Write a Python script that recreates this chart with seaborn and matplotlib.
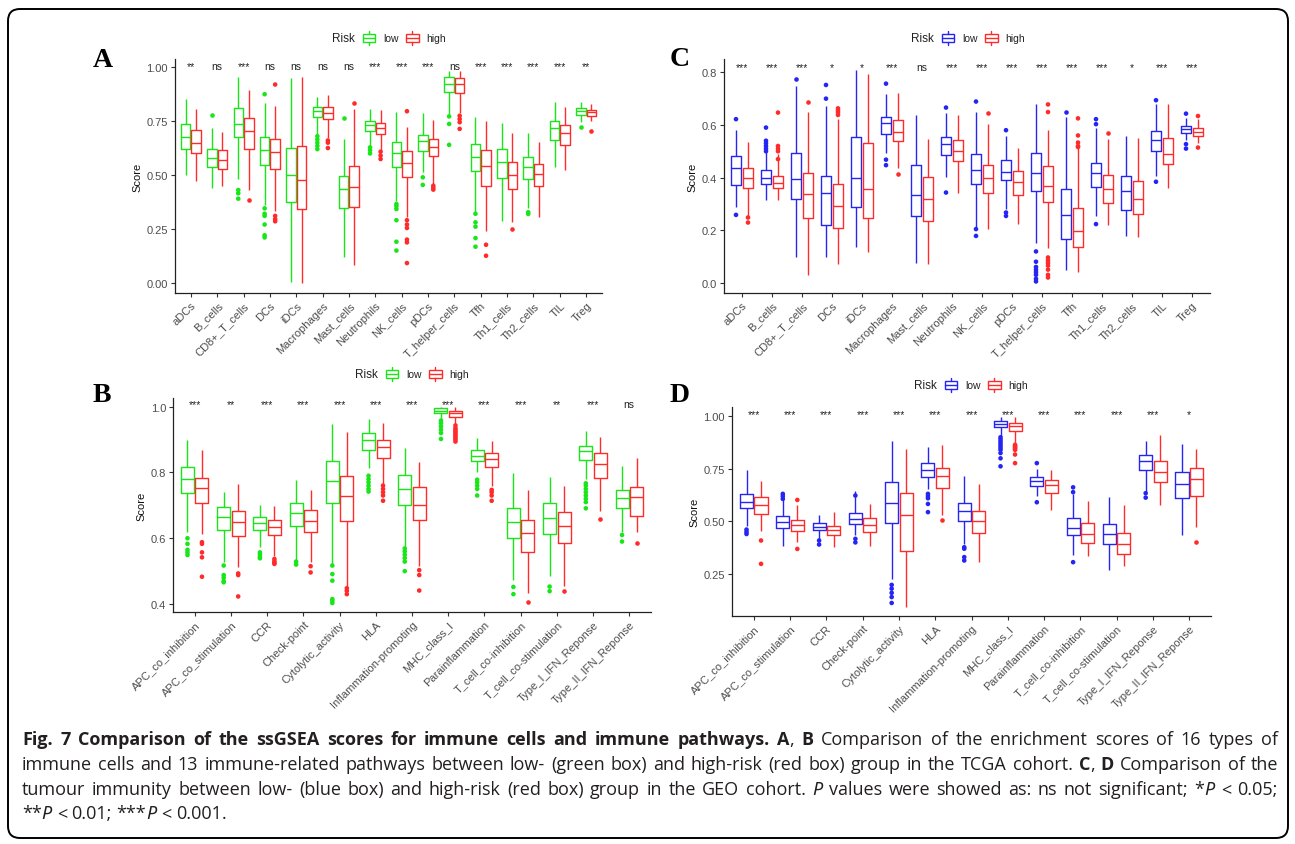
import numpy as np
import pandas as pd
import matplotlib
matplotlib.use('Agg')
import matplotlib.pyplot as plt
import seaborn as sns
from matplotlib.patches import FancyBboxPatch, Rectangle
from matplotlib.lines import Line2D
from matplotlib.transforms import IdentityTransform
from matplotlib.offsetbox import AnchoredOffsetbox, HPacker, TextArea, DrawingArea

# ---------------- categories ----------------
cells = ['aDCs', 'B_cells', 'CD8+_T_cells', 'DCs', 'iDCs', 'Macrophages', 'Mast_cells',
         'Neutrophils', 'NK_cells', 'pDCs', 'T_helper_cells', 'Tfh', 'Th1_cells',
         'Th2_cells', 'TIL', 'Treg']
pathways = ['APC_co_inhibition', 'APC_co_stimulation', 'CCR', 'Check-point',
            'Cytolytic_activity', 'HLA', 'Inflammation-promoting', 'MHC_class_I',
            'Parainflammation', 'T_cell_co-inhibition', 'T_cell_co-stimulation',
            'Type_I_IFN_Reponse', 'Type_II_IFN_Reponse']
risk = ['low', 'high']

# ---------------- panel A (TCGA, immune cells) ----------------
a_low_min = [0.50, 0.44, 0.48, 0.36, 0.002, 0.69, 0.12, 0.636, 0.38, 0.512, 0.783, 0.327, 0.288, 0.345, 0.539, 0.745]
a_low_q1 = [0.62, 0.535, 0.675, 0.545, 0.375, 0.77, 0.345, 0.706, 0.539, 0.613, 0.884, 0.517, 0.486, 0.481, 0.664, 0.78]
a_low_med = [0.675, 0.578, 0.735, 0.615, 0.50, 0.795, 0.435, 0.734, 0.60, 0.659, 0.923, 0.582, 0.56, 0.539, 0.717, 0.796]
a_low_q3 = [0.735, 0.62, 0.81, 0.675, 0.625, 0.815, 0.495, 0.752, 0.655, 0.687, 0.957, 0.644, 0.621, 0.582, 0.752, 0.81]
a_low_max = [0.855, 0.72, 0.955, 0.835, 0.95, 0.86, 0.665, 0.806, 0.794, 0.786, 0.985, 0.768, 0.741, 0.694, 0.837, 0.837]
a_low_out = [[], [0.78], [0.43, 0.415, 0.39], [0.875, 0.345, 0.32, 0.31, 0.27, 0.22, 0.21], [],
             [0.68, 0.665, 0.65, 0.635, 0.62], [0.765], [0.628, 0.615, 0.60],
             [0.365, 0.355, 0.342, 0.29, 0.19, 0.149], [0.489, 0.454], [0.772, 0.737, 0.64],
             [0.32, 0.28, 0.26, 0.207, 0.167], [], [0.327, 0.319], [], [0.721]]

a_high_min = [0.47, 0.45, 0.43, 0.335, 0.0, 0.67, 0.08, 0.613, 0.303, 0.458, 0.786, 0.241, 0.28, 0.306, 0.525, 0.749]
a_high_q1 = [0.60, 0.53, 0.62, 0.53, 0.34, 0.76, 0.35, 0.69, 0.489, 0.59, 0.879, 0.45, 0.437, 0.447, 0.641, 0.772]
a_high_med = [0.65, 0.57, 0.705, 0.605, 0.475, 0.79, 0.445, 0.718, 0.554, 0.632, 0.923, 0.543, 0.50, 0.505, 0.695, 0.791]
a_high_q3 = [0.71, 0.615, 0.765, 0.665, 0.635, 0.815, 0.54, 0.741, 0.613, 0.667, 0.949, 0.616, 0.562, 0.551, 0.732, 0.803]
a_high_max = [0.805, 0.70, 0.895, 0.82, 0.955, 0.87, 0.805, 0.80, 0.721, 0.755, 0.985, 0.752, 0.694, 0.655, 0.814, 0.83]
a_high_out = [[], [], [0.385], [0.92, 0.31, 0.295, 0.285], [], [0.66, 0.65, 0.625], [0.835],
              [0.608, 0.59, 0.574], [0.796, 0.29, 0.27, 0.254, 0.20, 0.187, 0.091],
              [0.45, 0.44, 0.432], [0.775, 0.76, 0.745, 0.714], [0.176, 0.125], [0.249],
              [], [], [0.703]]
a_sig = ['**', 'ns', '***', 'ns', 'ns', 'ns', 'ns', '***', '***', '***', 'ns', '***', '***', '***', '***', '**']

# ---------------- panel C (GEO, immune cells) ----------------
c_low_min = [0.289, 0.314, 0.096, 0.099, 0.137, 0.495, 0.075, 0.403, 0.21, 0.282, 0.153, 0.048, 0.254, 0.178, 0.406, 0.542]
c_low_q1 = [0.372, 0.377, 0.318, 0.22, 0.289, 0.567, 0.252, 0.485, 0.377, 0.39, 0.349, 0.166, 0.365, 0.277, 0.501, 0.57]
c_low_med = [0.435, 0.40, 0.394, 0.341, 0.40, 0.606, 0.334, 0.527, 0.429, 0.422, 0.416, 0.258, 0.416, 0.347, 0.542, 0.585]
c_low_q3 = [0.481, 0.428, 0.494, 0.404, 0.556, 0.63, 0.448, 0.554, 0.489, 0.465, 0.495, 0.358, 0.457, 0.405, 0.576, 0.597]
c_low_max = [0.58, 0.542, 0.748, 0.672, 0.808, 0.719, 0.638, 0.647, 0.651, 0.557, 0.678, 0.63, 0.587, 0.558, 0.678, 0.625]
c_low_out = [[0.622, 0.258], [0.59, 0.54, 0.53, 0.52, 0.51, 0.50], [0.773], [0.752, 0.70], [],
             [0.757, 0.468, 0.447], [], [0.666, 0.343], [0.689, 0.204, 0.178], [0.58, 0.267, 0.254],
             [0.119, 0.08, 0.06, 0.05, 0.04, 0.03, 0.015, 0.005], [0.651], [0.622, 0.603, 0.223],
             [], [0.694, 0.384], [0.643, 0.527, 0.51]]

c_high_min = [0.251, 0.314, 0.03, 0.071, 0.118, 0.438, 0.071, 0.341, 0.204, 0.225, 0.132, 0.042, 0.219, 0.175, 0.359, 0.533]
c_high_q1 = [0.362, 0.362, 0.248, 0.208, 0.248, 0.539, 0.235, 0.461, 0.342, 0.334, 0.308, 0.134, 0.305, 0.263, 0.451, 0.559]
c_high_med = [0.40, 0.38, 0.339, 0.292, 0.356, 0.573, 0.32, 0.50, 0.397, 0.382, 0.368, 0.196, 0.356, 0.32, 0.489, 0.575]
c_high_q3 = [0.438, 0.405, 0.419, 0.375, 0.53, 0.618, 0.403, 0.542, 0.447, 0.425, 0.442, 0.286, 0.41, 0.387, 0.551, 0.589]
c_high_max = [0.537, 0.491, 0.651, 0.624, 0.792, 0.723, 0.546, 0.638, 0.603, 0.514, 0.582, 0.511, 0.548, 0.552, 0.678, 0.622]
c_high_out = [[0.248, 0.229], [0.647, 0.52, 0.51, 0.50, 0.47], [0.689], [0.663, 0.655, 0.648, 0.638], [],
              [0.413], [], [], [0.647], [],
              [0.678, 0.649, 0.096, 0.085, 0.075, 0.065, 0.05, 0.03, 0.02],
              [0.625, 0.56, 0.533, 0.52, 0.516], [0.57], [], [], [0.634, 0.514]]
c_sig = ['***', '***', '***', '*', '*', '***', 'ns', '***', '***', '***', '***', '***', '***', '*', '***', '***']

# ---------------- panel B (TCGA, immune pathways) ----------------
b_low_min = [0.618, 0.529, 0.572, 0.532, 0.522, 0.813, 0.572, 0.963, 0.80, 0.473, 0.486, 0.78, 0.618]
b_low_q1 = [0.737, 0.625, 0.624, 0.638, 0.708, 0.868, 0.702, 0.981, 0.836, 0.602, 0.612, 0.837, 0.691]
b_low_med = [0.78, 0.665, 0.646, 0.677, 0.773, 0.899, 0.75, 0.988, 0.851, 0.649, 0.662, 0.865, 0.722]
b_low_q3 = [0.816, 0.696, 0.664, 0.707, 0.835, 0.919, 0.793, 0.996, 0.869, 0.693, 0.706, 0.882, 0.748]
b_low_max = [0.90, 0.742, 0.701, 0.778, 0.946, 0.963, 0.874, 1.0, 0.905, 0.798, 0.785, 0.927, 0.819]
b_low_out = [[0.60, 0.583, 0.565, 0.557, 0.549], [0.517, 0.488, 0.48, 0.47, 0.466],
             [0.557, 0.55, 0.543, 0.539], [0.529, 0.52], [0.517, 0.491, 0.471, 0.415, 0.41, 0.403],
             [0.79, 0.78, 0.77, 0.76, 0.75, 0.742], [0.569, 0.56, 0.55, 0.54, 0.529, 0.50],
             [0.958, 0.95, 0.94, 0.93, 0.92, 0.902], [0.778, 0.77, 0.76, 0.75, 0.73],
             [0.452, 0.43], [0.453, 0.439], [0.767, 0.76, 0.75, 0.74, 0.73, 0.72, 0.71, 0.691],
             [0.61, 0.59]]

b_high_min = [0.613, 0.514, 0.547, 0.527, 0.453, 0.765, 0.515, 0.945, 0.76, 0.432, 0.456, 0.684, 0.618]
b_high_q1 = [0.707, 0.608, 0.61, 0.618, 0.652, 0.844, 0.657, 0.968, 0.816, 0.559, 0.587, 0.782, 0.668]
b_high_med = [0.752, 0.65, 0.633, 0.652, 0.727, 0.876, 0.702, 0.981, 0.841, 0.615, 0.636, 0.827, 0.726]
b_high_q3 = [0.783, 0.684, 0.656, 0.687, 0.788, 0.899, 0.757, 0.988, 0.858, 0.657, 0.681, 0.86, 0.757]
b_high_max = [0.869, 0.765, 0.697, 0.747, 0.924, 0.95, 0.833, 0.998, 0.897, 0.747, 0.76, 0.909, 0.843]
b_high_out = [[0.588, 0.583, 0.557, 0.542, 0.483], [0.493, 0.488, 0.423], [0.537, 0.53, 0.525, 0.522],
              [0.515, 0.496], [0.448, 0.44, 0.43], [0.76, 0.75, 0.74, 0.73, 0.714],
              [0.503, 0.488, 0.441], [0.943, 0.935, 0.93, 0.925, 0.92, 0.915, 0.91, 0.905, 0.90, 0.894],
              [0.747, 0.74, 0.73, 0.714], [0.405], [0.439], [0.659], [0.585]]
b_sig = ['***', '**', '***', '***', '***', '***', '***', '***', '***', '***', '**', '***', 'ns']

# ---------------- panel D (GEO, immune pathways) ----------------
d_low_min = [0.48, 0.385, 0.417, 0.433, 0.227, 0.655, 0.393, 0.905, 0.623, 0.338, 0.269, 0.639, 0.433]
d_low_q1 = [0.563, 0.469, 0.46, 0.488, 0.493, 0.71, 0.504, 0.948, 0.669, 0.433, 0.393, 0.745, 0.61]
d_low_med = [0.594, 0.496, 0.475, 0.512, 0.588, 0.745, 0.548, 0.962, 0.691, 0.469, 0.441, 0.789, 0.677]
d_low_q3 = [0.632, 0.525, 0.491, 0.539, 0.686, 0.777, 0.588, 0.976, 0.712, 0.515, 0.488, 0.818, 0.734]
d_low_max = [0.746, 0.615, 0.532, 0.643, 0.881, 0.853, 0.715, 0.998, 0.75, 0.631, 0.618, 0.884, 0.868]
d_low_out = [[0.461, 0.45, 0.44], [0.631, 0.62, 0.607], [0.409, 0.39], [0.623, 0.417, 0.40],
             [0.198, 0.18, 0.16, 0.14, 0.112], [0.631, 0.62, 0.61, 0.583, 0.544],
             [0.377, 0.37, 0.33, 0.314], [0.90, 0.89, 0.88, 0.87, 0.86, 0.85, 0.84, 0.825, 0.80, 0.762],
             [0.777, 0.591], [0.662, 0.639, 0.306], [], [0.634, 0.613], []]

d_high_min = [0.456, 0.40, 0.377, 0.382, 0.095, 0.528, 0.306, 0.872, 0.552, 0.333, 0.29, 0.58, 0.475]
d_high_q1 = [0.536, 0.453, 0.436, 0.448, 0.357, 0.659, 0.447, 0.929, 0.634, 0.395, 0.346, 0.689, 0.623]
d_high_med = [0.578, 0.485, 0.46, 0.485, 0.528, 0.718, 0.50, 0.956, 0.674, 0.441, 0.393, 0.737, 0.70]
d_high_q3 = [0.616, 0.507, 0.48, 0.515, 0.634, 0.756, 0.548, 0.968, 0.696, 0.49, 0.445, 0.786, 0.753]
d_high_max = [0.691, 0.58, 0.544, 0.583, 0.845, 0.861, 0.678, 0.995, 0.745, 0.599, 0.58, 0.911, 0.842]
d_high_out = [[0.409, 0.298], [0.602, 0.369], [], [], [], [0.506], [],
              [0.864, 0.86, 0.855, 0.85, 0.845, 0.84, 0.818, 0.777], [], [], [], [], [0.404]]
d_sig = ['***'] * 12 + ['*']

# ---------------- caption ----------------
caption_lines = [
    [("Fig. 7 Comparison of the ssGSEA scores for immune cells and immune pathways.", 'b'), (" ", ''),
     ("A", 'b'), (", ", ''), ("B", 'b'), (" Comparison of the enrichment scores of 16 types of", '')],
    [("immune cells and 13 immune-related pathways between low- (green box) and high-risk (red box) "
      "group in the TCGA cohort. ", ''), ("C", 'b'), (", ", ''), ("D", 'b'), (" Comparison of the", '')],
    [("tumour immunity between low- (blue box) and high-risk (red box) group in the GEO cohort. ", ''),
     ("P", 'i'), (" values were showed as: ns not significant; *", ''), ("P", 'i'), (" < 0.05;", '')],
    [("**", ''), ("P", 'i'), (" < 0.01; ***", ''), ("P", 'i'), (" < 0.001.", '')],
]

GREEN, RED, BLUE = '#19E619', '#FF2A2A', '#2424F5'
W, H = 1295, 845

sns.set_theme(style='ticks')
plt.rcParams['font.family'] = ['Liberation Sans', 'DejaVu Sans']

fig = plt.figure(figsize=(W / 100, H / 100), dpi=100)
fig.patch.set_facecolor('white')


def box_frame(cats, stats):
    # each quartile value is repeated so seaborn's own percentiles land on the read values
    rows = []
    for grp, (lo, q1, med, q3, hi) in stats.items():
        for i, c in enumerate(cats):
            vals = [lo[i]] + [q1[i]] * 30 + [med[i]] * 30 + [q3[i]] * 30 + [hi[i]]
            rows += [(c, grp, v) for v in vals]
    return pd.DataFrame(rows, columns=['cell', 'Risk', 'Score'])


def outlier_frame(cats, outs):
    rows = []
    for grp, lists in outs.items():
        for c, vals in zip(cats, lists):
            rows += [(c, grp, v) for v in vals]
    return pd.DataFrame(rows, columns=['cell', 'Risk', 'Score'])


def px_rect(left, top, right, bottom):
    return [left / W, 1 - bottom / H, (right - left) / W, (bottom - top) / H]


def key_glyph(color):
    da = DrawingArea(10, 10, 0, 0)
    da.add_artist(Rectangle((0.5, 2.2), 9, 5.6, fc='white', ec=color, lw=1.0))
    da.add_artist(Line2D([0.5, 9.5], [5, 5], color=color, lw=1.0))
    da.add_artist(Line2D([5, 5], [0, 2.2], color=color, lw=1.0))
    da.add_artist(Line2D([5, 5], [7.8, 10], color=color, lw=1.0))
    return da


def add_legend(cx, cy, pal):
    kids = [TextArea('Risk', textprops=dict(size=8.5, color='#222222')),
            key_glyph(pal['low']), TextArea('low', textprops=dict(size=7.5, color='#222222')),
            key_glyph(pal['high']), TextArea('high', textprops=dict(size=7.5, color='#222222'))]
    box = HPacker(children=kids, align='center', pad=0, sep=5)
    anchored = AnchoredOffsetbox(loc='center', child=box, pad=0, borderpad=0, frameon=False,
                                 bbox_to_anchor=(cx / W, 1 - cy / H), bbox_transform=fig.transFigure)
    fig.add_artist(anchored)


def draw_panel(rect, cats, stats, outs, pal, sig, sig_y, ylim, yticks, ylabels):
    ax = fig.add_axes(rect)
    sns.boxplot(data=box_frame(cats, stats), x='cell', y='Score', hue='Risk', order=cats,
                hue_order=risk, palette=pal, fill=False, saturation=1, width=0.8, gap=0.1,
                whis=(0, 100), linewidth=1.0, showcaps=False, legend=False, ax=ax)
    sns.stripplot(data=outlier_frame(cats, outs), x='cell', y='Score', hue='Risk', order=cats,
                  hue_order=risk, palette=pal, dodge=True, jitter=False, size=3.3, linewidth=0,
                  legend=False, ax=ax)
    for i, s in enumerate(sig):
        ax.text(i, sig_y, s, ha='center', va='baseline', fontsize=7.5, color='#222222')
    ax.set_xlim(-0.6, len(cats) - 0.4)
    ax.set_ylim(*ylim)
    ax.set_yticks(yticks)
    ax.set_yticklabels(ylabels)
    ax.set_xlabel('')
    ax.set_ylabel('Score', fontsize=8, color='#111111', labelpad=3)
    ax.tick_params(axis='both', length=3, width=0.8, color='#333333', labelsize=8,
                   labelcolor='#4D4D4D', pad=2)
    plt.setp(ax.get_xticklabels(), rotation=45, ha='right', rotation_mode='anchor')
    sns.despine(ax=ax)
    for sp in ('left', 'bottom'):
        ax.spines[sp].set_color('#222222')
        ax.spines[sp].set_linewidth(0.9)
    ax.set_facecolor('white')
    return ax


pal_tcga = {'low': GREEN, 'high': RED}
pal_geo = {'low': BLUE, 'high': RED}

draw_panel(px_rect(175, 60, 602, 294), cells,
           {'low': (a_low_min, a_low_q1, a_low_med, a_low_q3, a_low_max),
            'high': (a_high_min, a_high_q1, a_high_med, a_high_q3, a_high_max)},
           {'low': a_low_out, 'high': a_high_out}, pal_tcga, a_sig, 0.99,
           (-0.048, 1.0385), [0, 0.25, 0.5, 0.75, 1.0], ['0.00', '0.25', '0.50', '0.75', '1.00'])

draw_panel(px_rect(724, 60, 1210, 294), cells,
           {'low': (c_low_min, c_low_q1, c_low_med, c_low_q3, c_low_max),
            'high': (c_high_min, c_high_q1, c_high_med, c_high_q3, c_high_max)},
           {'low': c_low_out, 'high': c_high_out}, pal_geo, c_sig, 0.81,
           (-0.039, 0.8507), [0, 0.2, 0.4, 0.6, 0.8], ['0.0', '0.2', '0.4', '0.6', '0.8'])

draw_panel(px_rect(173, 399, 651, 613), pathways,
           {'low': (b_low_min, b_low_q1, b_low_med, b_low_q3, b_low_max),
            'high': (b_high_min, b_high_q1, b_high_med, b_high_q3, b_high_max)},
           {'low': b_low_out, 'high': b_high_out}, pal_tcga, b_sig, 1.0,
           (0.3757, 1.0265), [0.4, 0.6, 0.8, 1.0], ['0.4', '0.6', '0.8', '1.0'])

draw_panel(px_rect(732, 408, 1211, 617), pathways,
           {'low': (d_low_min, d_low_q1, d_low_med, d_low_q3, d_low_max),
            'high': (d_high_min, d_high_q1, d_high_med, d_high_q3, d_high_max)},
           {'low': d_low_out, 'high': d_high_out}, pal_geo, d_sig, 0.998,
           (0.05, 1.044), [0.25, 0.5, 0.75, 1.0], ['0.25', '0.50', '0.75', '1.00'])

add_legend(389, 39, pal_tcga)
add_legend(968, 39, pal_geo)
add_legend(412, 375, pal_tcga)
add_legend(971, 386, pal_geo)

for letter, x, y in [('A', 93, 67), ('C', 670, 66), ('B', 93, 402), ('D', 670, 402)]:
    fig.text(x, H - y, letter, transform=IdentityTransform(), ha='left', va='baseline',
             family='Liberation Serif', weight='bold', size=20, color='black')

# outer rounded frame
fig.add_artist(FancyBboxPatch((8, H - 839), 1280, 829, boxstyle='round,pad=0,rounding_size=12',
                              fc='none', ec='black', lw=1.4, transform=IdentityTransform()))


def caption(lines, left, right, baselines, size):
    r = fig.canvas.get_renderer()

    def props(st):
        return dict(family='Noto Sans' if 'i' in st else 'Open Sans', size=size, color='#231F20',
                    weight='bold' if 'b' in st else 'normal',
                    style='italic' if 'i' in st else 'normal')

    def width(txt, st):
        t = fig.text(0, 0, txt, transform=IdentityTransform(), **props(st))
        w = t.get_window_extent(r).width
        t.remove()
        return w

    space = width('a a', '') - width('aa', '')
    for k, (segs, yb) in enumerate(zip(lines, baselines)):
        words = [[]]
        for txt, st in segs:
            for j, part in enumerate(txt.split(' ')):
                if j:
                    words.append([])
                if part:
                    words[-1].append((part, st))
        words = [w for w in words if w]
        widths = [[width(p, st) for p, st in w] for w in words]
        total = sum(sum(ws) for ws in widths)
        if k == len(lines) - 1:
            gap = space
        else:
            gap = (right - left - total) / (len(words) - 1)
        x = left
        for w, ws in zip(words, widths):
            for (p, st), pw in zip(w, ws):
                fig.text(x, H - yb, p, transform=IdentityTransform(), ha='left', va='baseline',
                         **props(st))
                x += pw
            x += gap


caption(caption_lines, 22, 1278, [745, 770, 795, 819], 13)

fig.savefig('out.png', dpi=100, facecolor='white')
